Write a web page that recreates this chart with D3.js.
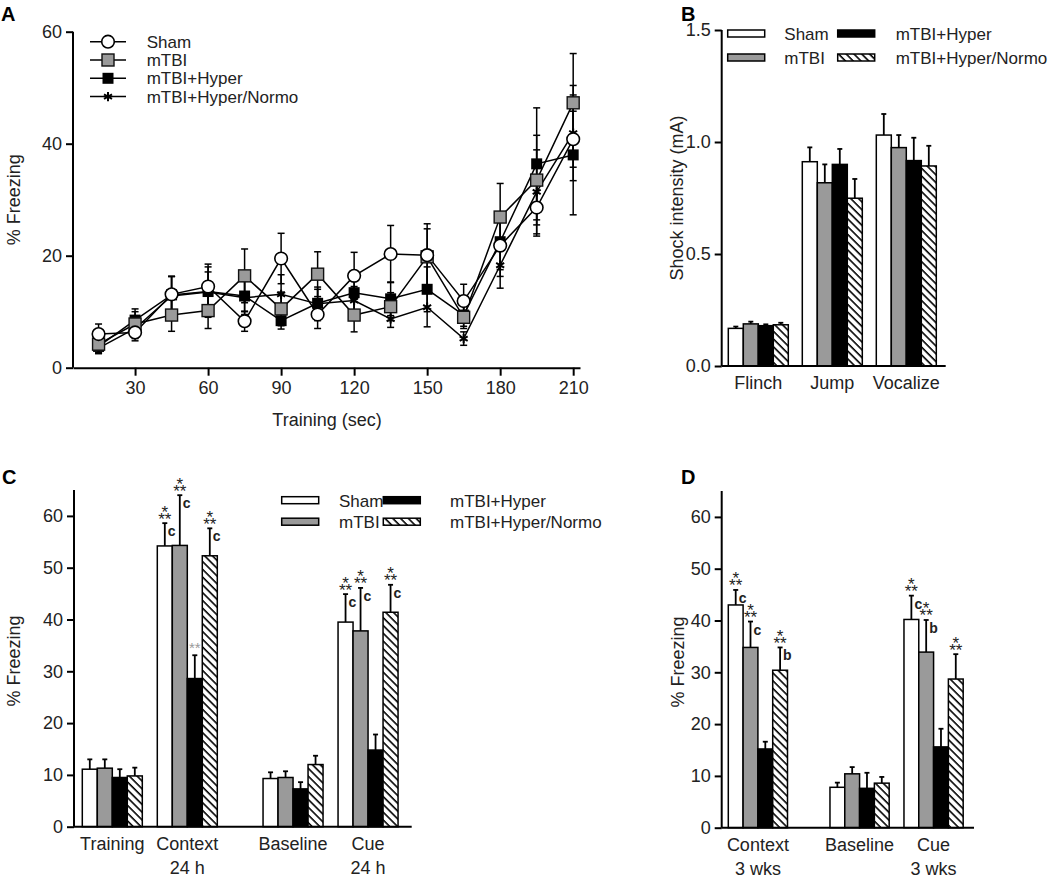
<!DOCTYPE html>
<html><head><meta charset="utf-8">
<script src="https://cdn.jsdelivr.net/npm/d3@7"></script>
<style>
body{margin:0;background:#fff;}
svg text{font-family:"Liberation Sans",Arial,sans-serif;fill:#222;}
</style></head>
<body><svg id="c" width="1050" height="881"></svg>
<script>
// ---------------- DATA ----------------
const groups = ["Sham","mTBI","mTBI+Hyper","mTBI+Hyper/Normo"];
const timesA = [15,30,45,60,75,90,105,120,135,150,165,180,195,210];
const xTicksA = [30,60,90,120,150,180,210];
const shamA  = [6.0,6.3,13.1,14.5,8.3,19.5,9.5,16.4,20.3,20.1,11.9,21.8,28.6,40.8];
const shamSemA = [1.8,1.5,3.2,4.0,1.8,4.5,2.5,4.2,5.1,5.6,3.0,5.5,5.1,5.0];
const mtbiA  = [4.2,7.8,9.4,10.2,16.4,10.5,16.7,9.4,10.9,19.8,9.0,26.9,33.5,47.3];
const mtbiSemA = [1.5,2.2,2.9,3.2,4.8,3.0,4.0,3.0,2.5,5.0,2.0,6.0,8.0,8.8];
const hyperA = [3.8,8.5,13.0,13.6,12.8,8.4,11.5,13.4,12.3,14.0,9.4,22.5,36.4,38.0];
const hyperSemA = [1.2,2.0,3.3,3.5,2.8,1.5,2.5,3.2,3.0,4.0,2.0,5.0,10.0,10.7];
const normoA = [3.5,7.0,12.8,13.5,12.5,13.1,11.4,12.0,8.7,10.8,5.2,18.3,31.4,41.9];
const normoSemA = [1.0,1.8,3.5,4.5,3.0,3.5,3.0,2.5,1.5,3.5,1.2,4.1,7.5,8.5];
const yTicksA = [0,20,40,60];

const catsB = ["Flinch","Jump","Vocalize"];
const shamB  = [0.168,0.912,1.031];
const mtbiB  = [0.188,0.818,0.975];
const hyperB = [0.180,0.900,0.917];
const normoB = [0.184,0.749,0.893];
const shamErrB  = [0.008,0.064,0.094];
const mtbiErrB  = [0.010,0.082,0.056];
const hyperErrB = [0.006,0.069,0.102];
const normoErrB = [0.009,0.086,0.090];
const yTicksB = [0,0.5,1.0,1.5];

const catsC = [["Training"],["Context","24 h"],["Baseline"],["Cue","24 h"]];
const shamC  = [11.1,54.2,9.3,39.5];
const mtbiC  = [11.3,54.3,9.5,37.8];
const hyperC = [9.5,28.6,7.3,14.8];
const normoC = [9.8,52.3,12.0,41.4];
const shamErrC  = [1.9,4.4,1.2,5.4];
const mtbiErrC  = [1.7,9.7,1.2,8.3];
const hyperErrC = [1.6,4.5,1.3,3.0];
const normoErrC = [1.6,5.3,1.7,5.3];
const starsC = [["","","",""],["***","***","**","***"],["","","",""],["***","***","","***"]];
const lettersC = [["","","",""],["c","c","","c"],["","","",""],["c","c","","c"]];

const catsD = [["Context","3 wks"],["Baseline"],["Cue","3 wks"]];
const shamD  = [43.0,7.8,40.2];
const mtbiD  = [34.8,10.4,33.9];
const hyperD = [15.2,7.6,15.6];
const normoD = [30.4,8.6,28.7];
const shamErrD  = [2.9,0.9,4.6];
const mtbiErrD  = [5.0,1.3,6.2];
const hyperErrD = [1.4,3.0,3.5];
const normoErrD = [4.4,1.2,4.8];
const starsD = [["***","***","","***"],["","","",""],["***","***","","***"]];
const lettersD = [["c","c","","b"],["","","",""],["c","b","",""]];
const yTicksCD = [0,10,20,30,40,50,60];

// ---------------- SETUP ----------------
const svg = d3.select("#c");
const defs = svg.append("defs");
const pat = defs.append("pattern").attr("id","hatch").attr("patternUnits","userSpaceOnUse")
  .attr("width",5.5).attr("height",5.5).attr("patternTransform","rotate(45)");
pat.append("rect").attr("width",5.5).attr("height",5.5).attr("fill","#fff");
pat.append("line").attr("x1",0).attr("y1",0).attr("x2",5.5).attr("y2",0)
  .attr("stroke","#000").attr("stroke-width",3.2);
const fills = ["#fff","#9a9a9a","#000","url(#hatch)"];
const FS = 18;
const LFS = 17;

function panelLabel(t,x,y){
  svg.append("text").attr("x",x).attr("y",y).attr("font-size",20).attr("font-weight","bold")
    .style("fill","#000").text(t);
}
function yAxis(scale, x, ticks, fmt, top){
  const g = svg.append("g").attr("transform",`translate(${x},0)`);
  g.call(d3.axisLeft(scale).tickValues(ticks).tickSize(7).tickSizeOuter(0).tickPadding(4).tickFormat(fmt));
  g.select(".domain").remove();
  g.append("line").attr("x1",0).attr("x2",0).attr("y1",scale.range()[0]).attr("y2",top)
    .attr("stroke","#000").attr("stroke-width",2);
  g.selectAll(".tick line").attr("stroke","#000").attr("stroke-width",2);
  g.selectAll(".tick text").attr("font-size",FS).attr("font-family","Liberation Sans, Arial, sans-serif").style("fill","#222");
  return g;
}
function yTitle(t,x,yc){
  svg.append("text").attr("transform",`translate(${x},${yc}) rotate(-90)`).attr("text-anchor","middle")
    .attr("font-size",FS).text(t);
}
function stars(x, yTop, s){
  if(!s) return;
  if(s==="***"){
    const t = svg.append("text").attr("text-anchor","middle").attr("font-size",17).style("fill","#222");
    t.append("tspan").attr("x",x).attr("y",yTop-15+9.5).text("*");
    t.append("tspan").attr("x",x).attr("y",yTop-8+9.5).text("**");
  } else {
    svg.append("text").attr("x",x).attr("y",yTop-10+8).attr("text-anchor","middle").attr("font-size",15).style("fill","#9a9a9a").text(s);
  }
}

// ---------------- PANEL A ----------------
panelLabel("A",1,21);
const xA = d3.scaleLinear().domain([4.5,212.8]).range([73,580]);
const yA = d3.scaleLinear().domain([0,60]).range([367.7,31.7]);
yAxis(yA,73,yTicksA,d3.format("d"),yA(60));
const gxA = svg.append("g").attr("transform",`translate(0,${yA(0)})`);
gxA.call(d3.axisBottom(xA).tickValues(xTicksA).tickSize(8).tickSizeOuter(0).tickPadding(6));
gxA.select(".domain").attr("stroke","#000").attr("stroke-width",2);
gxA.selectAll(".tick line").attr("stroke","#000").attr("stroke-width",2);
gxA.selectAll(".tick text").attr("font-size",FS).attr("font-family","Liberation Sans, Arial, sans-serif").style("fill","#222");
svg.append("text").attr("x",327).attr("y",426).attr("text-anchor","middle").attr("font-size",FS).text("Training (sec)");
yTitle("% Freezing",20,yA(30));

const seriesA = [
  {name:groups[3], v:normoA, e:normoSemA, m:"star"},
  {name:groups[2], v:hyperA, e:hyperSemA, m:"black"},
  {name:groups[1], v:mtbiA, e:mtbiSemA, m:"gray"},
  {name:groups[0], v:shamA, e:shamSemA, m:"circle"}
];
function marker(g, type, x, y){
  if(type==="circle") g.append("circle").attr("cx",x).attr("cy",y).attr("r",6.3).attr("fill","#fff").attr("stroke","#000").attr("stroke-width",1.6);
  else if(type==="gray") g.append("rect").attr("x",x-6).attr("y",y-6).attr("width",12).attr("height",12).attr("fill","#9a9a9a").attr("stroke","#111").attr("stroke-width",1.4);
  else if(type==="black") g.append("rect").attr("x",x-5.5).attr("y",y-5.5).attr("width",11).attr("height",11).attr("fill","#000");
  else g.append("path").attr("transform",`translate(${x},${y})`).attr("d",d3.symbol(d3.symbolAsterisk,60)()).attr("stroke","#000").attr("stroke-width",2).attr("fill","none");
}
const line = d3.line().x((d,i)=>xA(timesA[i])).y(d=>yA(d));
seriesA.forEach(s=>{
  const g = svg.append("g");
  s.v.forEach((v,i)=>{
    const x = xA(timesA[i]);
    const y1 = yA(v+s.e[i]), y2 = yA(v-s.e[i]);
    g.append("line").attr("x1",x).attr("x2",x).attr("y1",y1).attr("y2",y2).attr("stroke","#000").attr("stroke-width",1.5);
    [y1,y2].forEach(yy=>g.append("line").attr("x1",x-3.5).attr("x2",x+3.5).attr("y1",yy).attr("y2",yy).attr("stroke","#000").attr("stroke-width",1.5));
  });
});
seriesA.forEach(s=>{
  svg.append("path").attr("d",line(s.v)).attr("fill","none").attr("stroke","#000").attr("stroke-width",1.5);
});
seriesA.forEach(s=>{
  const g = svg.append("g");
  s.v.forEach((v,i)=>marker(g,s.m,xA(timesA[i]),yA(v)));
});
const legTypes = ["circle","gray","black","star"];
groups.forEach((name,i)=>{
  const y = 41.7 + i*18.3;
  const g = svg.append("g");
  g.append("line").attr("x1",90).attr("x2",126).attr("y1",y).attr("y2",y).attr("stroke","#000").attr("stroke-width",1.5);
  marker(g,legTypes[i],108,y);
  svg.append("text").attr("x",146.7).attr("y",y+6).attr("font-size",LFS).text(name);
});

// ---------------- generic bars ----------------
function barLegend(x0, y0, rowGap, xText1, xSw2, xText2){
  const swW = 37, swH = 7;
  const pos = [[x0,y0,xText1],[x0,y0+rowGap,xText1],[xSw2,y0,xText2],[xSw2,y0+rowGap,xText2]];
  groups.forEach((name,i)=>{
    const [sx,sy,tx] = pos[i];
    svg.append("rect").attr("x",sx).attr("y",sy).attr("width",swW).attr("height",swH)
      .attr("fill",fills[i]).attr("stroke","#000").attr("stroke-width",1.5);
    svg.append("text").attr("x",tx).attr("y",sy+10).attr("font-size",LFS).text(name);
  });
}
function drawBars(xStart, barW, yS, vals, errs, starArr, letterArr){
  const nCat = vals[0].length;
  for(let c=0;c<nCat;c++){
    for(let k=0;k<4;k++){
      const v = vals[k][c], e = errs[k][c];
      const x = xStart(c) + k*barW;
      const cx = x + barW/2;
      const yTop = yS(v+e);
      svg.append("line").attr("x1",cx).attr("x2",cx).attr("y1",yS(v)).attr("y2",yTop).attr("stroke","#000").attr("stroke-width",1.8);
      svg.append("line").attr("x1",cx-2.5).attr("x2",cx+2.5).attr("y1",yTop).attr("y2",yTop).attr("stroke","#000").attr("stroke-width",1.8);
      svg.append("rect").attr("x",x).attr("y",yS(v)).attr("width",barW).attr("height",yS(0)-yS(v))
        .attr("fill",fills[k]).attr("stroke","#000").attr("stroke-width",1.5);
      if(starArr) stars(cx, yTop, starArr[c][k]);
      if(letterArr && letterArr[c][k]){
        svg.append("text").attr("x",cx+3).attr("y",yTop+13).attr("font-size",14).attr("font-weight","bold")
          .style("fill","#222").text(letterArr[c][k]);
      }
    }
  }
}
function catLabels(labels, xCenter, y0){
  labels.forEach((lines,c)=>{
    lines.forEach((t,j)=>{
      svg.append("text").attr("x",xCenter(c)).attr("y",y0+23+j*24).attr("text-anchor","middle").attr("font-size",FS).text(t);
    });
  });
}
function xLine(x1,x2,y){
  svg.append("line").attr("x1",x1).attr("x2",x2).attr("y1",y).attr("y2",y).attr("stroke","#000").attr("stroke-width",2);
}

// ---------------- PANEL B ----------------
panelLabel("B",681,21);
const xB = d3.scaleBand().domain(catsB).range([728.3,936.3]).paddingInner(14/74).paddingOuter(0);
const yB = d3.scaleLinear().domain([0,1.5]).range([366,30]);
yAxis(yB,721.7,yTicksB,d3.format(".1f"),yB(1.5));
const bwB = xB.bandwidth()/4;
drawBars(c=>xB(catsB[c]), bwB, yB, [shamB,mtbiB,hyperB,normoB], [shamErrB,mtbiErrB,hyperErrB,normoErrB], null, null);
xLine(721.7,945.7,yB(0));
catLabels(catsB.map(d=>[d]), c=>xB(catsB[c])+xB.bandwidth()/2, yB(0));
yTitle("Shock intensity (mA)",683,yB(0.75));
barLegend(727.7,30,24,784.3,837.7,895.7);

// ---------------- PANEL C ----------------
panelLabel("C",2,484);
const yC = d3.scaleLinear().domain([0,65]).range([826.7,826.7-65*5.18]);
const gapC = 0.41;
const xC = d3.scaleLinear().domain([0,1]).range([82.3,157.3]);
const posC = c => xC(c + (c>=2?gapC:0));
const bwC = (xC(1)-xC(0))*0.8/4;
yAxis(yC,74,yTicksCD,d3.format("d"),yC(65));
drawBars(posC, bwC, yC, [shamC,mtbiC,hyperC,normoC], [shamErrC,mtbiErrC,hyperErrC,normoErrC], starsC, lettersC);
xLine(74,411.7,yC(0));
catLabels(catsC, c=>posC(c)+2*bwC, yC(0));
yTitle("% Freezing",20,yC(32));
barLegend(281.7,496.7,21.5,339,383.3,450);

// ---------------- PANEL D ----------------
panelLabel("D",681,484);
const yD = d3.scaleLinear().domain([0,65]).range([827.7,827.7-65*5.18]);
const gapD = 0.374;
const xD = d3.scaleLinear().domain([0,1]).range([728.3,802.3]);
const posD = c => xD(c + (c>=1?gapD:0));
const bwD = (xD(1)-xD(0))*0.8/4;
yAxis(yD,721.7,yTicksCD,d3.format("d"),yD(65));
drawBars(posD, bwD, yD, [shamD,mtbiD,hyperD,normoD], [shamErrD,mtbiErrD,hyperErrD,normoErrD], starsD, lettersD);
xLine(721.7,974,yD(0));
catLabels(catsD, c=>posD(c)+2*bwD, yD(0));
yTitle("% Freezing",684,yD(32));
</script></body></html>
